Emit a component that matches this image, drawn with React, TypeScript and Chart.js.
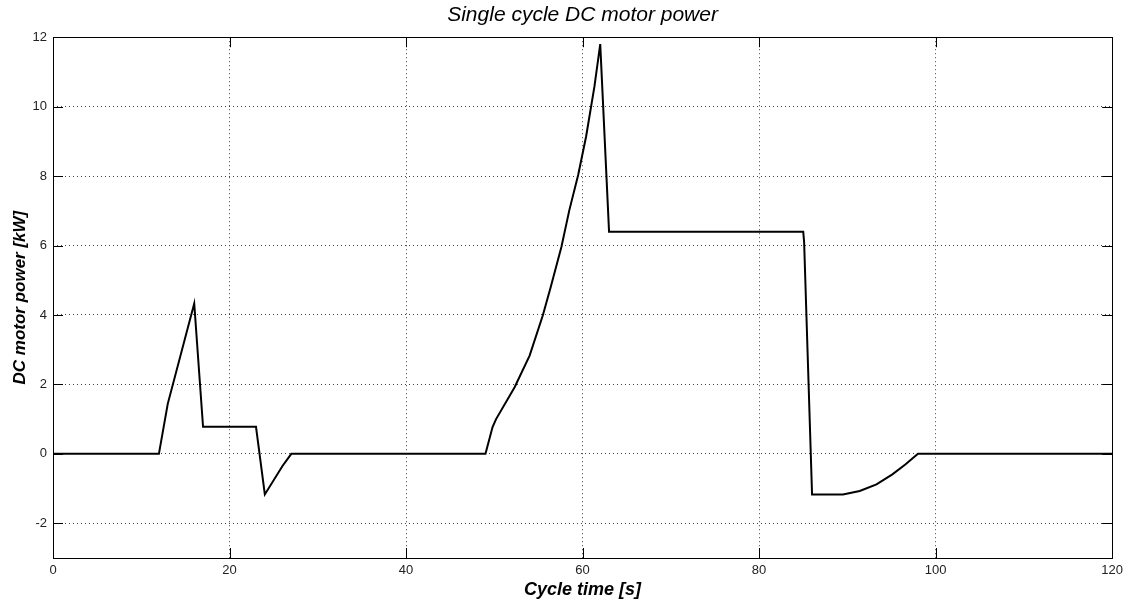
import React, { useEffect, useRef } from "react";
import { Chart, registerables } from "chart.js";

Chart.register(...registerables);

const times = [0, 12, 13, 16, 17, 23, 24, 26, 27, 49, 49.8, 50.2, 52.3, 54.0, 55.5, 56.4, 57.6, 58.5, 59.5, 60.4, 61.35, 62, 63, 85, 85.1, 86, 89.5, 91.4, 93.3, 95.1, 96.6, 98, 120];
const power = [0, 0, 1.44, 4.33, 0.78, 0.78, -1.17, -0.35, 0, 0, 0.77, 1.0, 1.92, 2.83, 3.99, 4.81, 5.96, 7.02, 8.03, 9.14, 10.59, 11.8, 6.4, 6.4, 6.1, -1.17, -1.17, -1.07, -0.88, -0.59, -0.3, 0, 0];
const xTicks = [0, 20, 40, 60, 80, 100, 120];
const yTicks = [-2, 0, 2, 4, 6, 8, 10, 12];

const FONT = "'Liberation Sans', Arial, sans-serif";

const boxPlugin = {
  id: "matlabBox",
  afterDraw(chart: any) {
    const { ctx, chartArea } = chart;
    const { left, right, top, bottom } = chartArea;
    const xs = chart.scales.x;
    const ys = chart.scales.y;
    ctx.save();
    ctx.strokeStyle = "#000";
    ctx.lineWidth = 1;
    ctx.setLineDash([]);
    ctx.strokeRect(Math.round(left) + 0.5, Math.round(top) + 0.5, Math.round(right - left), Math.round(bottom - top));
    ctx.beginPath();
    const tl = 10;
    xTicks.forEach((v) => {
      const px = Math.round(xs.getPixelForValue(v)) + 0.5;
      ctx.moveTo(px, bottom);
      ctx.lineTo(px, bottom - tl);
      ctx.moveTo(px, top);
      ctx.lineTo(px, top + tl);
    });
    yTicks.forEach((v) => {
      const py = Math.round(ys.getPixelForValue(v)) + 0.5;
      ctx.moveTo(left, py);
      ctx.lineTo(left + tl, py);
      ctx.moveTo(right, py);
      ctx.lineTo(right - tl, py);
    });
    ctx.stroke();
    ctx.restore();
  },
};

export default function App() {
  const ref = useRef<HTMLCanvasElement | null>(null);
  useEffect(() => {
    if (!ref.current) return;
    const points = times.map((t, i) => ({ x: t, y: power[i] }));
    const chart = new Chart(ref.current, {
      type: "line",
      data: {
        datasets: [
          {
            data: points,
            borderColor: "#000",
            borderWidth: 2,
            pointRadius: 0,
            tension: 0,
            fill: false,
          },
        ],
      },
      options: {
        animation: false,
        responsive: false,
        maintainAspectRatio: false,
        layout: { padding: { left: 0, right: 15, top: 0, bottom: 0 } },
        plugins: {
          legend: { display: false },
          tooltip: { enabled: false },
          title: {
            display: true,
            text: "Single cycle DC motor power",
            fullSize: false,
            color: "#000",
            font: { family: FONT, size: 21, style: "italic", weight: "normal", lineHeight: 1.2 },
            padding: { top: 3, bottom: 9 },
          },
        },
        scales: {
          x: {
            type: "linear",
            min: 0,
            max: 120,
            afterBuildTicks: (scale: any) => {
              scale.ticks = xTicks.map((v) => ({ value: v }));
            },
            afterFit: (scale: any) => {
              scale.height = 44;
            },
            grid: {
              color: (c: any) => (c.tick && (c.tick.value === 0 || c.tick.value === 120) ? "rgba(0,0,0,0)" : "#444"),
              lineWidth: 1,
              drawTicks: false,
              tickLength: 0,
            },
            border: { display: false, dash: [1, 3] },
            ticks: {
              color: "#222",
              padding: 5,
              maxRotation: 0,
              autoSkip: false,
              font: { family: FONT, size: 13 },
            },
            title: {
              display: true,
              text: "Cycle time [s]",
              color: "#000",
              font: { family: FONT, size: 18, style: "italic", weight: "bold" },
              padding: { top: 0, bottom: 1 },
            },
          },
          y: {
            type: "linear",
            min: -3,
            max: 12,
            afterBuildTicks: (scale: any) => {
              scale.ticks = yTicks.map((v) => ({ value: v }));
            },
            afterFit: (scale: any) => {
              scale.width = 53;
            },
            grid: {
              color: (c: any) => (c.tick && c.tick.value === 12 ? "rgba(0,0,0,0)" : "#444"),
              lineWidth: 1,
              drawTicks: false,
              tickLength: 0,
            },
            border: { display: false, dash: [1, 3] },
            ticks: {
              color: "#222",
              padding: 6,
              autoSkip: false,
              font: { family: FONT, size: 13 },
            },
            title: {
              display: true,
              text: "DC motor power [kW]",
              color: "#000",
              font: { family: FONT, size: 17, style: "italic", weight: "bold" },
              padding: { top: 10, bottom: 0 },
            },
          },
        },
      },
      plugins: [boxPlugin],
    });
    return () => chart.destroy();
  }, []);
  return (
    <div style={{ position: "absolute", left: 0, top: 0, width: 1128, height: 602, background: "#fff" }}>
      <canvas ref={ref} width={1128} height={602} style={{ display: "block", width: 1128, height: 602 }} />
    </div>
  );
}
